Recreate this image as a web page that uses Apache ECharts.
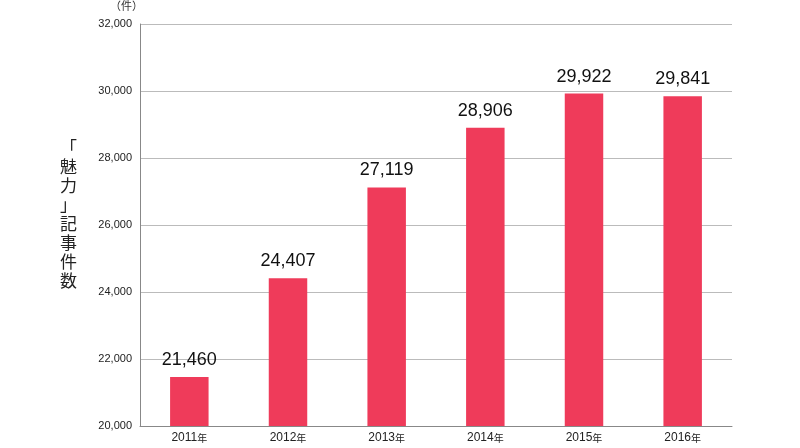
<!DOCTYPE html>
<html><head><meta charset="utf-8">
<script src="https://cdn.jsdelivr.net/npm/echarts@6/dist/echarts.min.js"></script>
<style>html,body{margin:0;padding:0;background:#fff}#c{width:800px;height:448px}</style>
</head><body><div id="c"></div>
<script>
const categories = ['2011', '2012', '2013', '2014', '2015', '2016'];
const values = [21460, 24407, 27119, 28906, 29922, 29841];
const yTitle = '「魅力」記事件数';
const unit = '（件）';
const chart = echarts.init(document.getElementById('c'));
const ff = '"Noto Sans CJK JP", "Liberation Sans", sans-serif';
chart.setOption({
  animation: false,
  grid: { left: 140, right: 68, top: 24, bottom: 22 },
  graphic: [
    { type: 'text', left: 110, top: 0, style: { text: unit, font: '11px ' + ff, fill: '#333' } },
    { type: 'text', left: 60, top: 138, style: { text: yTitle.split('').join('\n'), font: '17px ' + ff, fill: '#222', lineHeight: 19, align: 'center' } }
  ],
  xAxis: {
    type: 'category', data: categories,
    axisLine: { lineStyle: { color: '#888' } },
    axisTick: { show: false },
    axisLabel: {
      fontFamily: ff, color: '#222', margin: 6,
      formatter: v => '{a|' + v + '}{b|年}',
      rich: { a: { fontSize: 12, fontFamily: 'Liberation Sans' }, b: { fontSize: 10, fontFamily: ff } }
    }
  },
  yAxis: {
    type: 'value', min: 20000, max: 32000, interval: 2000,
    axisLine: { show: true, lineStyle: { color: '#888' } },
    axisTick: { show: false },
    splitLine: { lineStyle: { color: '#bbb' } },
    axisLabel: { color: '#222', fontSize: 11, fontFamily: 'Liberation Sans', formatter: v => v.toLocaleString('en-US') }
  },
  series: [{
    type: 'bar', data: values, barWidth: '39%',
    itemStyle: { color: '#ef3b5a' },
    label: { show: true, position: 'top', distance: 8, color: '#111', fontSize: 18, fontFamily: 'Liberation Sans',
      formatter: p => p.value.toLocaleString('en-US') }
  }]
});
</script></body></html>
